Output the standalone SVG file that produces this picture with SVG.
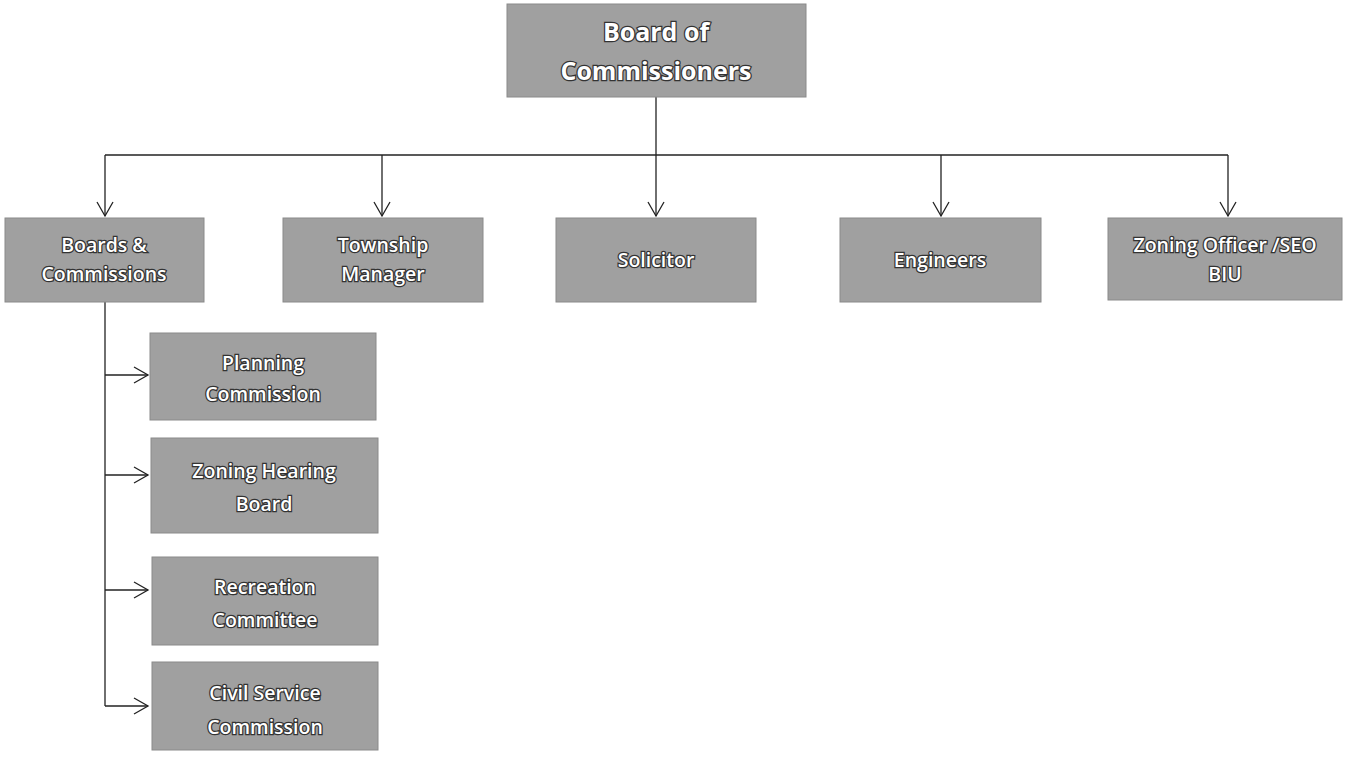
<svg xmlns="http://www.w3.org/2000/svg" width="1345" height="759" viewBox="0 0 1345 759">
<style>
.box{fill:#a0a0a0;stroke:#8a8a8a;stroke-width:1}
.t{font-family:"Open Sans","Liberation Sans",sans-serif;font-size:19.5px;font-weight:600;fill:#ffffff;stroke:#333333;stroke-width:2.5;paint-order:stroke;text-anchor:middle}
.tb{font-size:25px;font-weight:bold}
.c{fill:none;stroke:#222;stroke-width:1.3}
</style>
<defs>
<marker id="ah" viewBox="0 0 20 20" refX="16" refY="10" markerWidth="20" markerHeight="20" markerUnits="userSpaceOnUse" orient="auto">
<path d="M2,2 L16,10 L2,18" fill="none" stroke="#222" stroke-width="1.3"/>
</marker>
</defs>
<rect width="1345" height="759" fill="#ffffff"/>
<g id="connectors">
<path class="c" d="M656,97 V155" stroke-width="2"/>
<path class="c" d="M105,155 H1228"/>
<path class="c" d="M105,155 V216" marker-end="url(#ah)"/>
<path class="c" d="M382,155 V216" marker-end="url(#ah)"/>
<path class="c" d="M656,155 V216" marker-end="url(#ah)"/>
<path class="c" d="M941,155 V216" marker-end="url(#ah)"/>
<path class="c" d="M1228,155 V216" marker-end="url(#ah)"/>
<path class="c" d="M105,302 V706"/>
<path class="c" d="M105,375 H148" marker-end="url(#ah)"/>
<path class="c" d="M105,475 H148" marker-end="url(#ah)"/>
<path class="c" d="M105,590 H148" marker-end="url(#ah)"/>
<path class="c" d="M105,706 H148" marker-end="url(#ah)"/>
</g>
<g id="board">
<rect class="box" x="507" y="4" width="299" height="93"/>
<text class="t tb" x="656" y="41">Board of</text>
<text class="t tb" x="656" y="80">Commissioners</text>
</g>
<g id="boards-commissions">
<rect class="box" x="5" y="218" width="199" height="84"/>
<text class="t" x="104" y="252">Boards &amp;</text>
<text class="t" x="104" y="281">Commissions</text>
</g>
<g id="township-manager">
<rect class="box" x="283" y="218" width="200" height="84"/>
<text class="t" x="383" y="252">Township</text>
<text class="t" x="383" y="281">Manager</text>
</g>
<g id="solicitor">
<rect class="box" x="556" y="218" width="200" height="84"/>
<text class="t" x="656" y="267">Solicitor</text>
</g>
<g id="engineers">
<rect class="box" x="840" y="218" width="201" height="84"/>
<text class="t" x="940" y="267">Engineers</text>
</g>
<g id="zoning-officer">
<rect class="box" x="1108" y="218" width="234" height="82"/>
<text class="t" x="1225" y="252">Zoning Officer /SEO</text>
<text class="t" x="1225" y="281">BIU</text>
</g>
<g id="planning-commission">
<rect class="box" x="150" y="333" width="226" height="87"/>
<text class="t" x="263" y="370">Planning</text>
<text class="t" x="263" y="401">Commission</text>
</g>
<g id="zoning-hearing-board">
<rect class="box" x="151" y="438" width="227" height="95"/>
<text class="t" x="264" y="478">Zoning Hearing</text>
<text class="t" x="264" y="511">Board</text>
</g>
<g id="recreation-committee">
<rect class="box" x="152" y="557" width="226" height="88"/>
<text class="t" x="265" y="594">Recreation</text>
<text class="t" x="265" y="627">Committee</text>
</g>
<g id="civil-service-commission">
<rect class="box" x="152" y="662" width="226" height="88"/>
<text class="t" x="265" y="700">Civil Service</text>
<text class="t" x="265" y="734">Commission</text>
</g>
</svg>
